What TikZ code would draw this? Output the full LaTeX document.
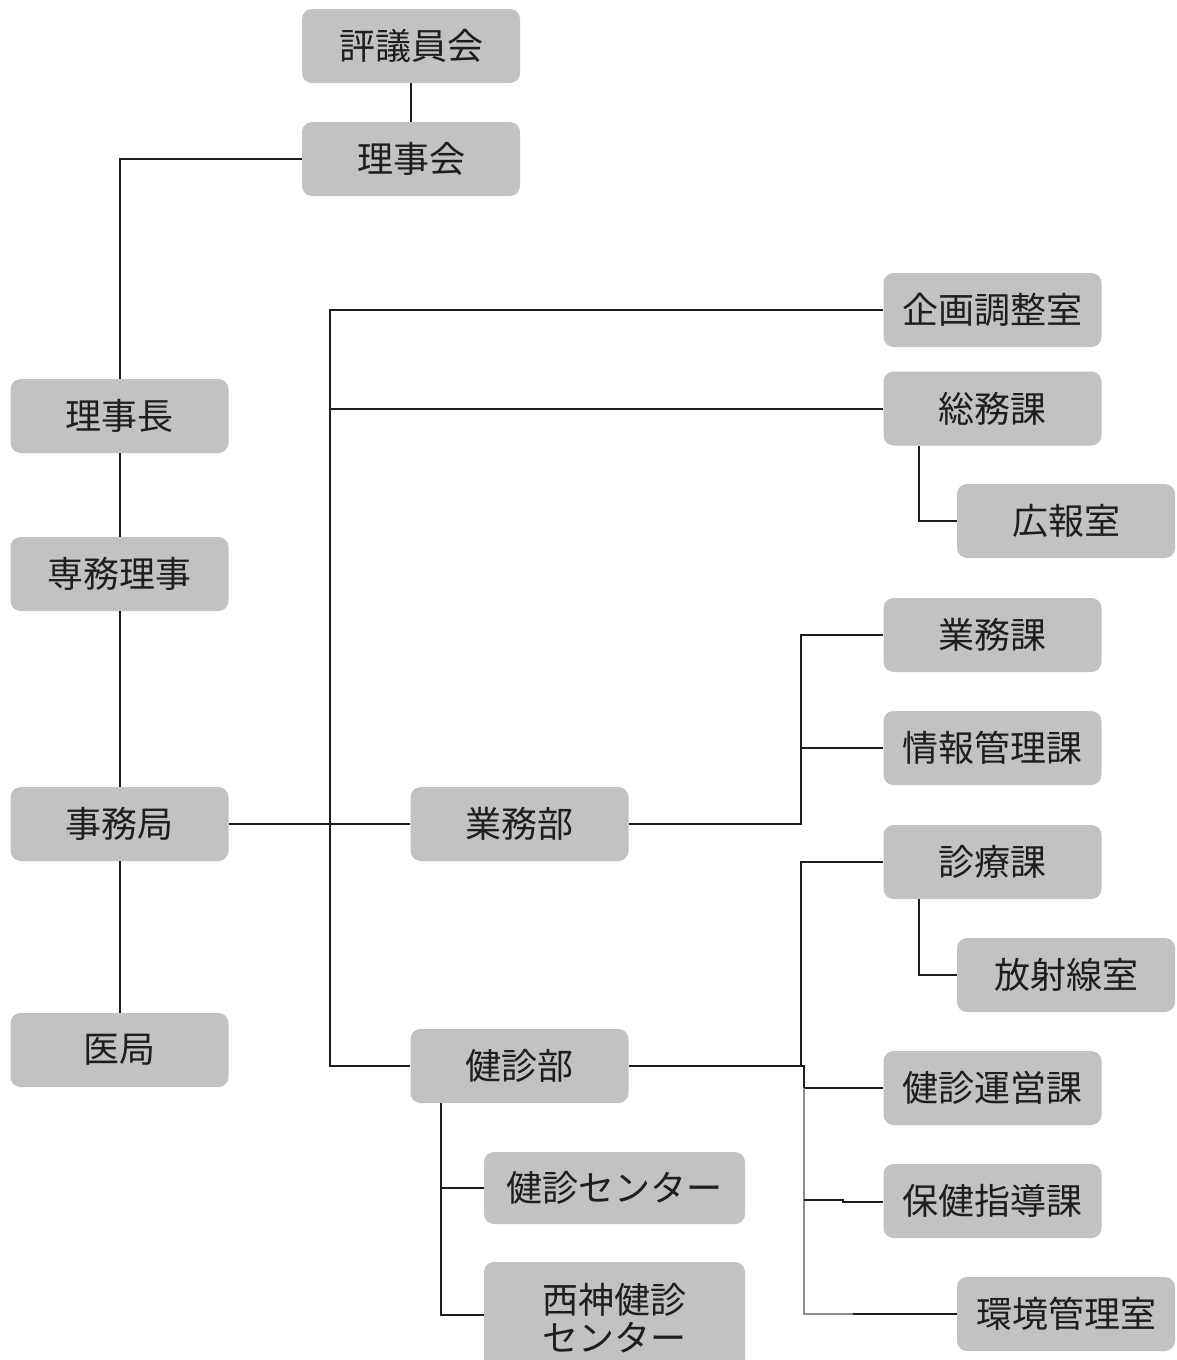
\documentclass[tikz,border=0pt]{standalone}
\usepackage{fontspec}
\newfontfamily\cjk{Noto Sans CJK JP}
\definecolor{boxgray}{HTML}{C2C2C2}
\definecolor{txtgray}{HTML}{1E1E1E}
\definecolor{linegray}{HTML}{1E1E1E}
\definecolor{palegray}{HTML}{8C8C8C}
\tikzset{
  orgbox/.style={rectangle, rounded corners=10pt, fill=boxgray, draw=none,
    text=txtgray, font=\cjk\fontsize{36}{38}\selectfont, inner sep=0pt,
    minimum width=218pt, minimum height=74pt, align=center},
  wideorg/.style={orgbox, minimum width=261pt},
  link/.style={draw=linegray, line width=2pt},
  palelink/.style={draw=palegray, line width=2pt}
}
\begin{document}
\begin{tikzpicture}[x=1pt,y=-1pt]
\useasboundingbox (0,0) rectangle (1176,1360);
\clip (0,0) rectangle (1176,1360);
\fill[white] (0,0) rectangle (1176,1360);
% nodes
\node[orgbox] (pyg) at (411,46) {評議員会};
\node[orgbox] (rjk) at (411,159) {理事会};
\node[orgbox] (rjc) at (119.5,416) {理事長};
\node[orgbox] (smr) at (119.5,574) {専務理事};
\node[orgbox] (jmk) at (119.5,824) {事務局};
\node[orgbox] (iky) at (119.5,1050) {医局};
\node[orgbox] (gmb) at (519.5,824) {業務部};
\node[orgbox] (kenb) at (519.5,1066) {健診部};
\node[wideorg, minimum height=72pt] (kc) at (614.5,1188) {健診センター};
\node[wideorg, minimum height=112pt] (seishin) at (614.5,1318) {西神健診\\センター};
\node[orgbox] (kikaku) at (992.5,310) {企画調整室};
\node[orgbox] (somu) at (992.5,408.5) {総務課};
\node[orgbox] (koho) at (1066,521) {広報室};
\node[orgbox] (gymk) at (992.5,635) {業務課};
\node[orgbox] (jhk) at (992.5,748) {情報管理課};
\node[orgbox] (shinryo) at (992.5,862) {診療課};
\node[orgbox] (hosha) at (1066,975) {放射線室};
\node[orgbox] (kunei) at (992.5,1088) {健診運営課};
\node[orgbox] (hoken) at (992.5,1201) {保健指導課};
\node[orgbox] (kankyo) at (1066,1314) {環境管理室};
% helper coordinates
\coordinate (trunk) at (330,0);
\coordinate (bj) at (801,0);
\coordinate (bk) at (804,0);
\coordinate (kjog) at (843,0);
\coordinate (kpale) at (853,0);
% connectors
\draw[link] (pyg.south) -- (rjk.north);
\draw[link] (rjk.west) -| (rjc.north);
\draw[link] (rjc.south) -- (smr.north);
\draw[link] (smr.south) -- (jmk.north);
\draw[link] (jmk.south) -- (iky.north);
\draw[link] (jmk.east) -- (gmb.west);
\draw[link] (kikaku.west) -- (kikaku.west -| trunk) -- (kenb.west -| trunk) -- (kenb.west);
\draw[link] (somu.west) -- (somu.west -| trunk);
\draw[link] ([xshift=-73.5pt]somu.south) |- (koho.west);
\draw[link] (gmb.east) -- (gmb.east -| bj) |- (gymk.west);
\draw[link] (jhk.west) -- (jhk.west -| bj);
\draw[link] (kenb.east) -- (kenb.east -| bj) |- (shinryo.west);
\draw[link] ([xshift=-73.5pt]shinryo.south) |- (hosha.west);
\draw[link] (kenb.east -| bj) -- (kenb.east -| bk) |- (kunei.west);
\draw[palelink] (kunei.west -| bk) -- (kankyo.west -| bk) -- (kankyo.west -| kpale);
\draw[link] (kankyo.west -| kpale) -- (kankyo.west);
\draw[link] ([yshift=1pt]hoken.west -| bk) -- ([yshift=1pt]hoken.west -| kjog) -- ([yshift=-1pt]hoken.west -| kjog) -- ([yshift=-1pt]hoken.west);
\draw[link] ([xshift=31pt]kenb.south west) |- (kc.west);
\draw[link] ([xshift=31pt]kenb.south west) |- ([yshift=3pt]seishin.west);
\end{tikzpicture}
\end{document}
